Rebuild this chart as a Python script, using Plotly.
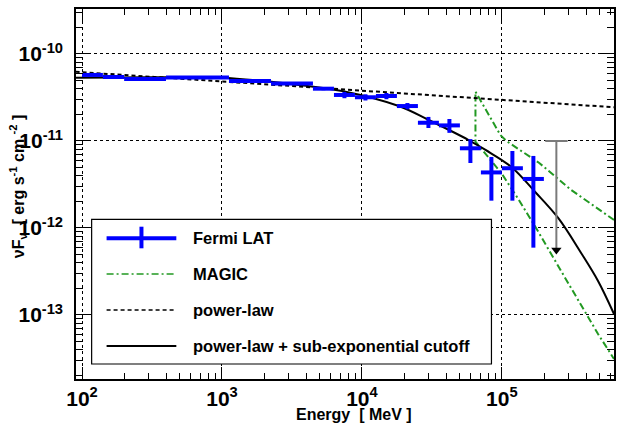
import plotly.graph_objects as go
import numpy as np

# ---------------- data ----------------
# Fermi LAT spectral points: energy bin centre and edges [MeV], nuFnu [erg s^-1 cm^-2]
fermi_e = [119, 168, 282, 668, 1585, 3162, 5309, 7499, 10593, 14962, 21135,
           29854, 42170, 59566, 84140, 118850, 167880]
fermi_e_lo = [100, 141, 200, 398, 1122, 2239, 4467, 6310, 8913, 12589, 17783,
              25119, 35481, 50119, 70795, 100000, 141254]
fermi_e_hi = [141, 200, 398, 1122, 2239, 4467, 6310, 8913, 12589, 17783, 25119,
              35481, 50119, 70795, 100000, 141254, 199526]
fermi_f = [5.74e-11, 5.44e-11, 5.16e-11, 5.37e-11, 4.90e-11, 4.58e-11, 3.99e-11,
           3.38e-11, 3.18e-11, 3.29e-11, 2.52e-11, 1.62e-11, 1.51e-11, 8.24e-12,
           4.35e-12, 4.86e-12, 3.66e-12]
fermi_f_lo = [5.57e-11, 5.28e-11, 5.00e-11, 5.21e-11, 4.75e-11, 4.44e-11, 3.83e-11,
              3.10e-11, 2.92e-11, 3.02e-11, 2.31e-11, 1.41e-11, 1.24e-11, 5.58e-12,
              2.06e-12, 2.06e-12, 5.94e-13]
fermi_f_hi = [5.91e-11, 5.60e-11, 5.32e-11, 5.53e-11, 5.05e-11, 4.72e-11, 4.15e-11,
              3.66e-11, 3.44e-11, 3.56e-11, 2.73e-11, 1.89e-11, 1.79e-11, 1.05e-11,
              6.55e-12, 7.67e-12, 6.73e-12]

# Fermi LAT upper limit
ul_e = 245000
ul_e_lo = 204000
ul_e_hi = 295000
ul_f = 1.0e-11
ul_f_end = 5.6e-13

# MAGIC butterfly (upper and lower envelopes)
magic_up_e = [64730, 74990, 87100, 97500, 107650, 139960, 184930, 312610, 413050, 632410]
magic_up_f = [3.690e-11, 2.393e-11, 1.611e-11, 1.172e-11, 1.0e-11, 7.568e-12,
              5.585e-12, 2.735e-12, 1.991e-12, 1.236e-12]
magic_lo_e = [64730, 80170, 99080, 130920, 181970, 252350, 349950, 486430, 632410]
magic_lo_f = [9.817e-12, 6.546e-12, 4.285e-12, 2.153e-12, 9.057e-13, 3.656e-13,
              1.486e-13, 6.053e-14, 3.119e-14]

# power-law model
pl_e = [90, 632410]
pl_f = [6.24e-11, 2.44e-11]

# power-law + sub-exponential cutoff model
cut_e = [90.6, 304.8, 990.8, 2178, 3565, 7211, 18323, 29992, 57810, 76384,
         116950, 172980, 252350, 368130, 486430, 632410]
cut_f = [5.346e-11, 5.395e-11, 5.346e-11, 4.831e-11, 4.406e-11, 3.758e-11,
         2.523e-11, 1.742e-11, 1.026e-11, 7.889e-12, 5.023e-12, 2.594e-12,
         1.303e-12, 5.164e-13, 2.460e-13, 1.026e-13]

# tick labels
x_tickvals = [1e2, 1e3, 1e4, 1e5]
x_ticktext = ["10<sup>2</sup>", "10<sup>3</sup>", "10<sup>4</sup>", "10<sup>5</sup>"]
y_tickvals = [1e-13, 1e-12, 1e-11, 1e-10]
y_ticktext = ["10<sup>-13</sup>", "10<sup>-12</sup>", "10<sup>-11</sup>", "10<sup>-10</sup>"]

legend_labels = ["Fermi LAT", "MAGIC", "power-law",
                 "power-law + sub-exponential cutoff"]

# ---------------- figure ----------------
FONT = "Liberation Sans"
BLUE = "#0000ff"
GREEN = "#229922"
NB = "\u00a0"

fig = go.Figure()

# MAGIC butterfly as one path
m_x = list(reversed(magic_up_e)) + magic_lo_e
m_y = list(reversed(magic_up_f)) + magic_lo_f
fig.add_trace(go.Scatter(x=m_x, y=m_y, mode="lines",
                         line=dict(color=GREEN, width=2, dash="7px,3px,2px,3px"),
                         hoverinfo="skip", showlegend=False))

# power-law
fig.add_trace(go.Scatter(x=pl_e, y=pl_f, mode="lines",
                         line=dict(color="black", width=2, dash="4px,3px"),
                         showlegend=False))

# cutoff model
fig.add_trace(go.Scatter(x=cut_e, y=cut_f, mode="lines", line_shape="spline",
                         line=dict(color="black", width=2), showlegend=False))

# Fermi points
fe = np.array(fermi_e, float)
ff = np.array(fermi_f, float)
fig.add_trace(go.Scatter(
    x=fe, y=ff, mode="markers",
    marker=dict(size=1, color=BLUE),
    error_x=dict(type="data", symmetric=False,
                 array=np.array(fermi_e_hi) - fe, arrayminus=fe - np.array(fermi_e_lo),
                 color=BLUE, thickness=4, width=0),
    error_y=dict(type="data", symmetric=False,
                 array=np.array(fermi_f_hi) - ff, arrayminus=ff - np.array(fermi_f_lo),
                 color=BLUE, thickness=4, width=0),
    showlegend=False))

# Upper limit
fig.add_trace(go.Scatter(x=[ul_e_lo, ul_e_hi], y=[ul_f, ul_f], mode="lines",
                         line=dict(color="#7a7a7a", width=2), showlegend=False))
fig.add_trace(go.Scatter(x=[ul_e, ul_e], y=[ul_f, ul_f_end], mode="lines",
                         line=dict(color="#7a7a7a", width=2), showlegend=False))
fig.add_trace(go.Scatter(x=[ul_e], y=[ul_f_end], mode="markers",
                         marker=dict(symbol="triangle-down", size=9, color="black"),
                         showlegend=False))

# ---------------- axes ----------------
L, R, T, B = 76, 2, 9, 47
W, H = 618, 426
pw, ph = W - L - R, H - T - B

axis_common = dict(
    type="log", tickmode="array",
    showline=True, linecolor="black", linewidth=1.5, mirror="allticks",
    ticks="inside", tickcolor="black", tickwidth=1,
    showgrid=True, gridcolor="black", gridwidth=1, griddash="dot",
    zeroline=False,
    tickfont=dict(family=FONT, size=21, color="black", weight="bold"),
)
fig.update_xaxes(**axis_common, range=[1.957, 5.801], ticklen=12,
                 tickvals=x_tickvals, ticktext=x_ticktext,
                 minor=dict(dtick="D1", ticks="inside", ticklen=6, tickcolor="black",
                            showgrid=False),
                 ticklabelstandoff=0)
fig.update_yaxes(**axis_common, range=[-13.736, -9.483], ticklen=13,
                 tickvals=y_tickvals, ticktext=y_ticktext,
                 minor=dict(dtick="D1", ticks="inside", ticklen=7, tickcolor="black",
                            showgrid=False),
                 ticklabelstandoff=7)

def px2paper(x, y):
    return (x - L) / pw, (H - B - y) / ph

annotations = []
shapes = []

# axis titles
ax_, ay_ = px2paper(355, 415)
annotations.append(dict(text="Energy" + NB + NB + "[" + NB + "MeV" + NB + "]",
                        x=ax_, y=ay_, xref="paper", yref="paper",
                        xanchor="center", yanchor="middle", showarrow=False,
                        font=dict(family=FONT, size=16, color="black", weight="bold")))
tx, ty = px2paper(18, 186)
ytitle = ("νF<sub>ν</sub>" + NB + NB + "[" + NB + "erg" + NB + "s<sup>-1</sup>" + NB +
          "cm" + NB + "<sup>-2</sup>" + NB + "]")
annotations.append(dict(text=ytitle,
                        x=tx, y=ty, xref="paper", yref="paper", textangle=-90,
                        xanchor="center", yanchor="middle", showarrow=False,
                        font=dict(family=FONT, size=16, color="black", weight="bold")))

# legend box
x0, y0 = px2paper(91.7, 364)
x1, y1 = px2paper(493, 219.3)
shapes.append(dict(type="rect", xref="paper", yref="paper", x0=x0, y0=y0, x1=x1, y1=y1,
                   line=dict(color="black", width=1.2), fillcolor="white", layer="above"))

rows_y = [238.3, 274, 310, 346]
styles = [dict(color=BLUE, width=4), dict(color=GREEN, width=1.5, dash="7px,3px,2px,3px"),
          dict(color="black", width=1.5, dash="4px,3px"), dict(color="black", width=2)]
for lab, yy, st in zip(legend_labels, rows_y, styles):
    sx0, sy = px2paper(106.7, yy)
    sx1, _ = px2paper(176.7, yy)
    shapes.append(dict(type="line", xref="paper", yref="paper", x0=sx0, x1=sx1, y0=sy, y1=sy,
                       line=st, layer="above"))
    lx, ly = px2paper(191.7, yy)
    annotations.append(dict(text=lab, x=lx, y=ly, xref="paper", yref="paper",
                            xanchor="left", yanchor="middle", showarrow=False,
                            font=dict(family=FONT, size=16.5, color="black", weight="bold")))
# vertical bar of the Fermi legend symbol
vx, vy0 = px2paper(141.7, 248.3)
_, vy1 = px2paper(141.7, 226.7)
shapes.append(dict(type="line", xref="paper", yref="paper", x0=vx, x1=vx, y0=vy0, y1=vy1,
                   line=dict(color=BLUE, width=4), layer="above"))

fig.update_layout(
    width=W, height=H,
    margin=dict(l=L, r=R, t=T, b=B, pad=0),
    plot_bgcolor="white", paper_bgcolor="white",
    showlegend=False,
    shapes=shapes, annotations=annotations,
)

fig.write_html("out.html")
